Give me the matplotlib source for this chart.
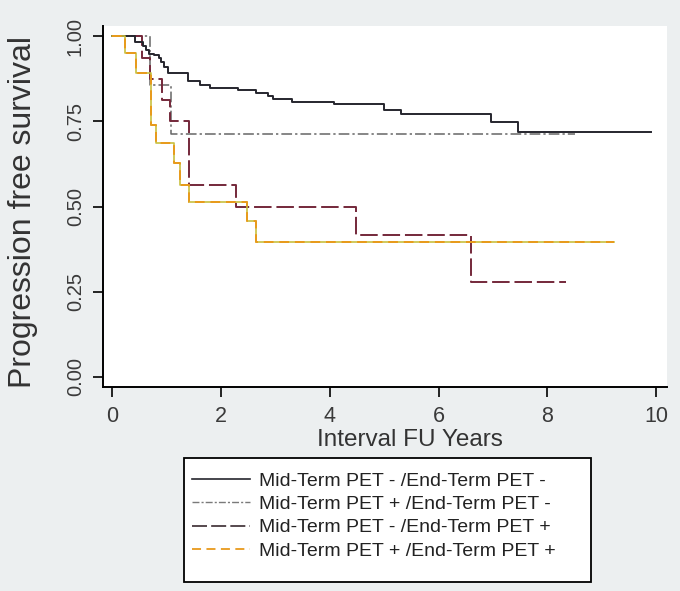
import matplotlib
matplotlib.use("Agg")
import matplotlib.pyplot as plt
from matplotlib.lines import Line2D
from matplotlib.patches import Rectangle

# ---- data ----
labels = ["Mid-Term PET - /End-Term PET -",
          "Mid-Term PET + /End-Term PET -",
          "Mid-Term PET - /End-Term PET +",
          "Mid-Term PET + /End-Term PET +"]

t_nn = [0.41, 0.56, 0.62, 0.68, 0.775, 0.867, 0.90, 0.96, 1.02, 1.39, 1.61, 1.79,
        2.31, 2.65, 2.87, 2.96, 3.30, 4.07, 4.99, 5.30, 6.96, 7.46]
s_nn = [0.983, 0.971, 0.959, 0.949, 0.944, 0.937, 0.925, 0.910, 0.891, 0.868, 0.857,
        0.847, 0.842, 0.832, 0.823, 0.815, 0.808, 0.801, 0.784, 0.771, 0.748, 0.718]
end_nn = 9.90

t_pn = [0.70, 1.08]
s_pn = [0.857, 0.714]
end_pn = 8.5

t_np = [0.55, 0.70, 0.92, 1.07, 1.42, 2.28, 4.48, 6.60]
s_np = [0.9375, 0.875, 0.8125, 0.75, 0.5625, 0.50, 0.4167, 0.278]
end_np = 8.34

t_pp = [0.24, 0.44, 0.71, 0.81, 1.14, 1.24, 1.42, 2.47, 2.65]
s_pp = [0.950, 0.892, 0.740, 0.686, 0.628, 0.564, 0.514, 0.457, 0.397]
end_pp = 9.23

xticks = [0, 2, 4, 6, 8, 10]
yticks = [0.00, 0.25, 0.50, 0.75, 1.00]


def km(t, s, end):
    xs = [0.0] + list(t) + [end]
    ys = [1.0] + list(s) + [s[-1]]
    return xs, ys


plt.rcParams['font.family'] = ['Liberation Sans', 'DejaVu Sans']

W, H = 680, 591
fig = plt.figure(figsize=(6.8, 5.91), dpi=100, facecolor='#eceff0')
ax = fig.add_axes([103/W, 1 - 387/H, 564/W, 361/H])
ax.set_facecolor('white')

c_nn = '#26262e'
c_pn = '#666666'
c_np = '#74283a'
c_pp = '#e89a1c'
c_pp2 = '#c8c040'

lw = 1.4
ls_pn = (0, (7, 2, 1.5, 2))
ls_np = (0, (9, 2.5))
ls_pp = (0, (5, 3))

x, y = km(t_pn, s_pn, end_pn)
ax.step(x, y, where='post', color=c_pn, lw=1.1, ls=ls_pn)
x, y = km(t_np, s_np, end_np)
ax.step(x, y, where='post', color=c_np, lw=lw, ls=ls_np)
x, y = km(t_nn, s_nn, end_nn)
ax.step(x, y, where='post', color=c_nn, lw=lw)
x, y = km(t_pp, s_pp, end_pp)
ax.step(x, y, where='post', color=c_pp2, lw=1.2)
ax.step(x, y, where='post', color=c_pp, lw=1.4, ls=ls_pp)

ax.set_xlim(-0.17, 10.2)
ax.set_ylim(-0.03, 1.03)
ax.set_xticks(xticks)
ax.set_xticklabels([str(v) for v in xticks])
ax.set_yticks(yticks)
ax.set_yticklabels(["%.2f" % v for v in yticks], rotation=90, va='center')
for side in ['top', 'right']:
    ax.spines[side].set_visible(False)
for side in ['left', 'bottom']:
    ax.spines[side].set_linewidth(1.4)
    ax.spines[side].set_color('black')
ax.tick_params(direction='out', length=7, width=1.2, colors='black')
ax.tick_params(axis='x', labelsize=15.5, pad=7, labelcolor='#3a3a3a')
ax.tick_params(axis='y', labelsize=14.5, pad=6, labelcolor='#3a3a3a')

ax.set_xlabel("Interval FU Years", fontsize=17.5, color='#333333')
ax.set_ylabel("Progression free survival", fontsize=23, color='#333333')
ax.xaxis.set_label_coords((410 - 103) / 564, (387 - 429) / 361)
ax.yaxis.set_label_coords((38 - 103) / 564, (387 - 212) / 361)

# legend frame
fig.patches.append(Rectangle((184/W, 1 - 582/H), 407/W, 124/H, transform=fig.transFigure,
                             facecolor='white', edgecolor='black', lw=1.3, zorder=0))

handles = [
    Line2D([], [], color=c_nn, lw=1.2),
    Line2D([], [], color='#7a7a7a', lw=1.0, ls=(0, (5, 1.5, 1.5, 1.5))),
    Line2D([], [], color='#3a2a30', lw=1.2, ls=(0, (9, 2.5))),
    Line2D([], [], color=c_pp, lw=1.3, ls=(0, (5, 3))),
]
leg = fig.legend(handles, labels, loc='upper left',
                 bbox_to_anchor=(192/W, 1 - 472/H), bbox_transform=fig.transFigure,
                 frameon=False, fontsize=14, handlelength=3.0, handletextpad=0.45,
                 labelspacing=0.30, borderpad=0, borderaxespad=0)
for txt in leg.get_texts():
    txt.set_color('#222222')

fig.savefig("out.png", dpi=100, facecolor=fig.get_facecolor())
